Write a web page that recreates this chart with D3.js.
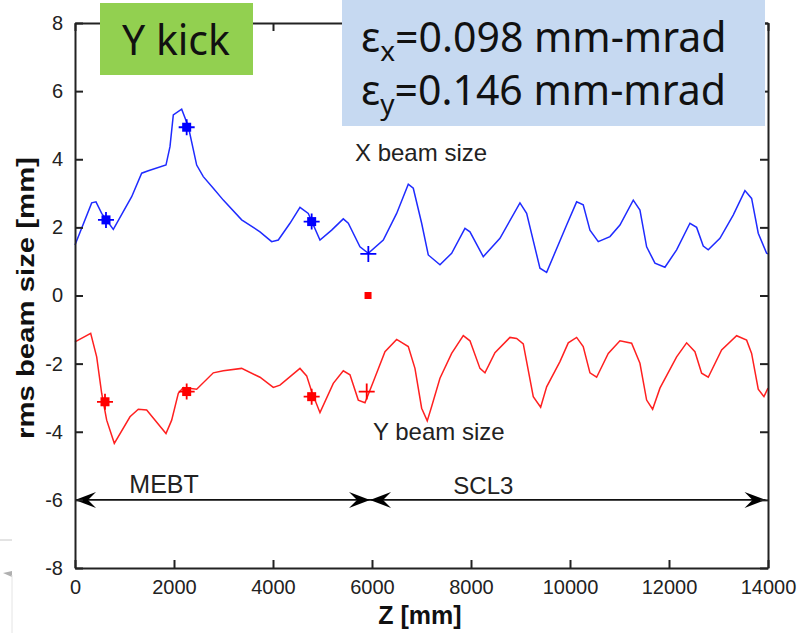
<!DOCTYPE html>
<html><head><meta charset="utf-8">
<script src="https://cdn.jsdelivr.net/npm/d3@7"></script>
<style>
body{margin:0;background:#fff;}
svg{display:block;}
</style></head>
<body>
<script>
// ---- data ----
const xBeamZ = [0,337,424,539,774,1145,1347,1481,1838,1919,1986,2155,2289,2458,2592,2794,2996,3367,3737,3973,4107,4343,4545,4713,4949,5185,5420,5521,5757,5925,6228,6498,6733,6834,7003,7137,7373,7609,7878,7979,8248,8585,8989,9124,9393,9528,9932,10134,10267,10403,10571,10807,11009,11278,11413,11548,11716,11918,12154,12423,12558,12692,12793,13029,13297,13534,13669,13803,13972,14000];
const xBeamV = [1.48,2.72,2.75,2.41,1.94,2.90,3.59,3.66,3.83,4.37,5.30,5.47,4.96,3.83,3.49,3.15,2.80,2.22,1.87,1.58,1.63,2.12,2.59,2.41,1.63,1.92,2.25,2.12,1.43,1.24,1.63,2.41,3.27,3.15,2.12,1.19,0.90,1.24,1.97,1.87,1.14,1.68,2.72,2.41,0.80,0.68,2.07,2.75,2.66,1.92,1.58,1.73,2.07,2.80,2.51,1.43,0.95,0.83,1.34,2.12,2.00,1.45,1.34,1.68,2.36,3.08,2.85,1.83,1.24,1.22];
const yBeamZ = [0,317,438,539,640,794,1111,1279,1448,1838,1953,2087,2188,2458,2794,2996,3367,3737,4006,4141,4545,4680,4781,4949,5218,5420,5555,5723,5858,6026,6262,6498,6733,6868,7003,7116,7205,7373,7609,7844,7979,8181,8282,8484,8787,8922,9056,9258,9407,9528,9797,9965,10134,10267,10403,10538,10773,11009,11245,11413,11548,11669,11817,12154,12356,12524,12659,12793,13063,13366,13568,13669,13803,13918,14000];
const yBeamV = [-1.36,-1.11,-1.80,-2.87,-3.66,-4.34,-3.56,-3.34,-3.36,-4.05,-3.66,-2.87,-2.70,-2.75,-2.27,-2.21,-2.14,-2.40,-2.70,-2.63,-2.14,-2.36,-2.82,-3.44,-2.58,-2.21,-2.33,-3.07,-3.15,-2.53,-1.65,-1.29,-1.50,-2.14,-3.31,-3.68,-3.26,-2.43,-1.70,-1.18,-1.33,-2.14,-2.27,-1.68,-1.23,-1.26,-1.42,-2.97,-3.28,-2.68,-1.94,-1.39,-1.23,-1.50,-2.27,-2.40,-1.70,-1.33,-1.40,-1.99,-3.07,-3.34,-2.72,-1.80,-1.39,-1.65,-2.28,-2.40,-1.60,-1.18,-1.31,-1.70,-2.75,-2.97,-2.72];
const xMarkZ = [626,2256,4781,5926];
const xMarkV = [2.22,4.94,2.17,1.22];
const xMarkFilled = [true,true,true,false];
const yMarkZ = [606,2256,4781,5893];
const yMarkV = [-3.12,-2.82,-2.97,-2.82];
const yMarkFilled = [true,true,true,false];
const centroidZ = [5920];
const centroidV = [0];
const xTicks = [0,2000,4000,6000,8000,10000,12000,14000];
const yTicks = [-8,-6,-4,-2,0,2,4,6,8];
const sectionNames = ["MEBT","SCL3"];
const sectionStart = [0,5960];
const sectionEnd = [5960,13950];
const sectionLevel = -6;

// ---- layout ----
const W = 798, H = 633;
const svg = d3.select("body").append("svg").attr("width",W).attr("height",H);
const x = d3.scaleLinear().domain([0,14000]).range([75,768]);
const y = d3.scaleLinear().domain([-8,8]).range([568,23]);
const axisColor = "#222";
const FONT = "Liberation Sans, Arial, sans-serif";

// lines
const line = d3.line().x((d)=>x(d[0])).y((d)=>y(d[1]));
svg.append("path").datum(d3.zip(xBeamZ,xBeamV)).attr("d",line)
  .attr("fill","none").attr("stroke","#1f2bff").attr("stroke-width",1.5);
svg.append("path").datum(d3.zip(yBeamZ,yBeamV)).attr("d",line)
  .attr("fill","none").attr("stroke","#ff2020").attr("stroke-width",1.5);

// markers
function markers(zs,vs,filled,color){
  const g = svg.append("g");
  zs.forEach((z,i)=>{
    const cx = x(z), cy = y(vs[i]);
    if(filled[i]) g.append("rect").attr("x",cx-4.5).attr("y",cy-4.5).attr("width",9).attr("height",9).attr("fill",color);
    g.append("path").attr("d",`M${cx-8},${cy}H${cx+8}M${cx},${cy-8}V${cy+8}`)
      .attr("stroke",color).attr("stroke-width",1.8);
  });
}
markers(xMarkZ,xMarkV,xMarkFilled,"#0000ff");
markers(yMarkZ,yMarkV,yMarkFilled,"#ff0000");
svg.selectAll(".cent").data(d3.zip(centroidZ,centroidV)).enter().append("rect")
  .attr("x",(d)=>x(d[0])-3.5).attr("y",(d)=>y(d[1])-3.5).attr("width",7).attr("height",7).attr("fill","#ff0000");

// section arrows
const ay = y(sectionLevel);
function arrowHead(tipX, dir){
  const L = 21, Wd = 8, back = 13;
  return `M${tipX},${ay}L${tipX-dir*L},${ay-Wd}L${tipX-dir*back},${ay}L${tipX-dir*L},${ay+Wd}Z`;
}
sectionNames.forEach((nm,i)=>{
  const x0 = x(sectionStart[i]), x1 = x(sectionEnd[i]);
  svg.append("line").attr("x1",x0).attr("x2",x1).attr("y1",ay).attr("y2",ay).attr("stroke","#111").attr("stroke-width",1.6);
  svg.append("path").attr("d",arrowHead(x0,-1)).attr("fill","#000");
  svg.append("path").attr("d",arrowHead(x1,1)).attr("fill","#000");
});
svg.append("text").attr("x",x(1800)).attr("y",493).attr("text-anchor","middle")
  .attr("font-family",FONT).attr("font-size",25).attr("fill","#222").text(sectionNames[0]);
svg.append("text").attr("x",x(8250)).attr("y",494).attr("text-anchor","middle")
  .attr("font-family",FONT).attr("font-size",24).attr("fill","#222").text(sectionNames[1]);

// curve labels
svg.append("text").attr("x",355).attr("y",161)
  .attr("font-family",FONT).attr("font-size",24).attr("fill","#222").text("X beam size");
svg.append("text").attr("x",373).attr("y",440)
  .attr("font-family",FONT).attr("font-size",24).attr("fill","#222").text("Y beam size");

// axes (box with inward ticks on all sides)
const fmt = (d)=>String(d);
const axB = d3.axisBottom(x).tickValues(xTicks).tickSizeInner(-8).tickSizeOuter(0).tickPadding(12).tickFormat(fmt);
const axT = d3.axisTop(x).tickValues(xTicks).tickSizeInner(-8).tickSizeOuter(0).tickFormat("");
const axL = d3.axisLeft(y).tickValues(yTicks).tickSizeInner(-8).tickSizeOuter(0).tickPadding(12).tickFormat(fmt);
const axR = d3.axisRight(y).tickValues(yTicks).tickSizeInner(-8).tickSizeOuter(0).tickFormat("");
function styleAx(g){
  g.selectAll("path,line").attr("stroke",axisColor).attr("stroke-width",2);
  g.selectAll("text").attr("font-family",FONT).attr("font-size",20).attr("fill","#222");
}
svg.append("g").attr("transform",`translate(0,${y(-8)})`).call(axB).call(styleAx);
svg.append("g").attr("transform",`translate(0,${y(8)})`).call(axT).call(styleAx);
svg.append("g").attr("transform",`translate(${x(0)},0)`).call(axL).call(styleAx);
svg.append("g").attr("transform",`translate(${x(14000)},0)`).call(axR).call(styleAx);

// axis titles
svg.append("text").attr("x",420).attr("y",624).attr("text-anchor","middle")
  .attr("font-family",FONT).attr("font-weight","bold").attr("font-size",25).attr("fill","#111").text("Z [mm]");
svg.append("text").attr("transform","translate(34,298) rotate(-90)").attr("text-anchor","middle")
  .attr("font-family",FONT).attr("font-weight","bold").attr("font-size",24)
  .attr("textLength",282).attr("lengthAdjust","spacingAndGlyphs").attr("fill","#111").text("rms beam size [mm]");

// annotation boxes
svg.append("rect").attr("x",100).attr("y",3).attr("width",153).attr("height",72).attr("fill","#92d050");
svg.append("text").attr("x",176).attr("y",55).attr("text-anchor","middle")
  .attr("font-family","Noto Sans, Open Sans, sans-serif").attr("font-size",41).attr("fill","#111").text("Y kick");
svg.append("rect").attr("x",342).attr("y",0).attr("width",423).attr("height",126).attr("fill","#c6d9f1");
const eps = [["x","0.098"],["y","0.146"]];
eps.forEach((e,i)=>{
  const t = svg.append("text").attr("x",361).attr("y",52+i*53)
    .attr("font-family","Noto Sans, Open Sans, sans-serif").attr("font-size",41).attr("fill","#111");
  t.append("tspan").text("ε");
  t.append("tspan").attr("font-size",28).attr("dy",9).text(e[0]);
  t.append("tspan").attr("dy",-9).text("=" + e[1] + " mm-mrad");
});

// small artifacts at the left edge
svg.append("line").attr("x1",0).attr("x2",12).attr("y1",540).attr("y2",540).attr("stroke","#c8c8c8").attr("stroke-width",1);
svg.append("path").attr("d","M3,573L12,571L12,577Z").attr("fill","#b0b0b0");
svg.append("line").attr("x1",12).attr("x2",12).attr("y1",575).attr("y2",633).attr("stroke","#e4e4e4").attr("stroke-width",1);
</script>
</body></html>
